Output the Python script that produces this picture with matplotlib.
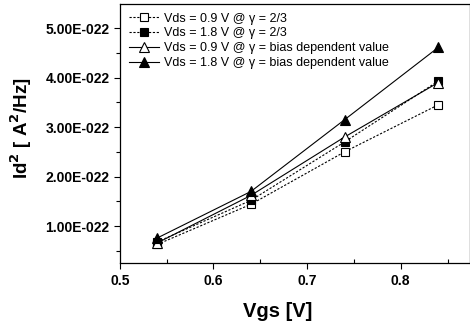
import numpy as np
import matplotlib.pyplot as plt
from matplotlib.ticker import MultipleLocator, FuncFormatter

plt.rcParams['font.family'] = ['Liberation Sans', 'DejaVu Sans']

# Gate voltage points
vgs = [0.54, 0.64, 0.74, 0.84]

# Noise values in units of 1e-22 A^2/Hz
sq_open = [0.63, 1.44, 2.50, 3.45]
sq_fill = [0.68, 1.52, 2.70, 3.93]
tri_open = [0.66, 1.62, 2.80, 3.90]
tri_fill = [0.76, 1.70, 3.15, 4.61]

labels = ['Vds = 0.9 V @ \u03b3 = 2/3',
          'Vds = 1.8 V @ \u03b3 = 2/3',
          'Vds = 0.9 V @ \u03b3 = bias dependent value',
          'Vds = 1.8 V @ \u03b3 = bias dependent value']

scale = 1e-22

fig = plt.figure(figsize=(4.7, 3.29), dpi=100)
ax = fig.add_axes([0.255, 0.2, 0.745, 0.788])

x = np.array(vgs)
ax.plot(x, np.array(sq_open) * scale, color='k', ls=(0, (2, 1.5)), lw=0.8,
        marker='s', ms=5.5, mfc='white', mec='k', mew=0.8, label=labels[0])
ax.plot(x, np.array(sq_fill) * scale, color='k', ls=(0, (2, 1.5)), lw=0.8,
        marker='s', ms=5.5, mfc='k', mec='k', mew=0.8, label=labels[1])
ax.plot(x, np.array(tri_open) * scale, color='k', ls='-', lw=0.8,
        marker='^', ms=7, mfc='white', mec='k', mew=0.8, label=labels[2])
ax.plot(x, np.array(tri_fill) * scale, color='k', ls='-', lw=0.8,
        marker='^', ms=7, mfc='k', mec='k', mew=0.8, label=labels[3])

ax.set_xlim(0.5, 0.874)
ax.set_ylim(0.25e-22, 5.49e-22)

ax.set_xticks([0.5, 0.6, 0.7, 0.8])
ax.xaxis.set_minor_locator(MultipleLocator(0.05))
ax.set_yticks([v * scale for v in [1, 2, 3, 4, 5]])
ax.yaxis.set_minor_locator(MultipleLocator(0.5e-22))
ax.yaxis.set_major_formatter(FuncFormatter(lambda v, p: '%.2fE-022' % (v / scale)))

ax.tick_params(axis='both', which='major', direction='out', length=4, width=0.8,
               labelsize=10)
ax.tick_params(axis='x', which='minor', direction='in', length=3, width=0.8)
ax.tick_params(axis='y', which='minor', direction='out', length=3, width=0.8)
for lab in ax.get_xticklabels() + ax.get_yticklabels():
    lab.set_fontweight('bold')

for s in ax.spines.values():
    s.set_linewidth(0.9)

ax.set_xlabel('Vgs [V]', fontsize=14.5, fontweight='bold')
ax.xaxis.set_label_coords(0.45, -0.15)
ax.set_ylabel('Id$^\\mathbf{2}$ [ A$^\\mathbf{2}$/Hz]', fontsize=13.5, fontweight='bold')
ax.yaxis.set_label_coords(-0.245, 0.52)

ax.legend(loc='upper left', frameon=False, fontsize=9, handlelength=2.4,
          handletextpad=0.4, labelspacing=0.22, borderaxespad=0.3,
          borderpad=0.4)

fig.savefig('out.png', dpi=100)
